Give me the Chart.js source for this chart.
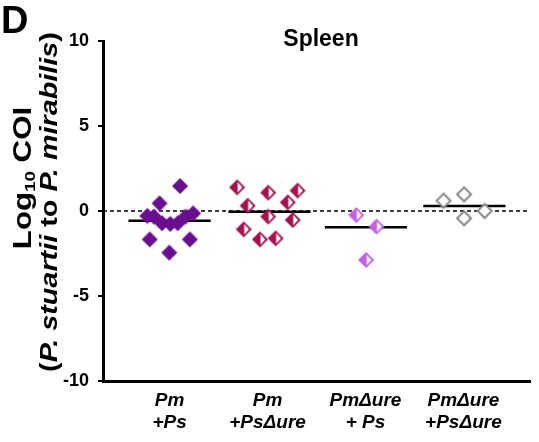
<!DOCTYPE html>
<html>
<head>
<meta charset="utf-8">
<script src="https://cdn.jsdelivr.net/npm/chart.js@4"></script>
<style>
  html, body { margin: 0; padding: 0; background: #fff; }
  #wrap { width: 539px; height: 442px; position: relative; }
</style>
</head>
<body>
<div id="wrap"><canvas id="chart"></canvas></div>
<script>
// Categories and tick values
const categories = [['Pm', '+Ps'], ['Pm', '+PsΔure'], ['PmΔure', '+ Ps'], ['PmΔure', '+PsΔure']];
const yTicks = [-10, -5, 0, 5, 10];

// Log10 COI per mouse (x = scatter position inside the group)
const pmPsX = [1.107, 0.897, 0.773, 0.84, 0.923, 1.007, 1.083, 1.163, 1.24, 0.797, 1.207, 0.997];
const pmPsY = [1.47, 0.45, -0.29, -0.33, -0.72, -0.76, -0.72, -0.33, -0.14, -1.67, -1.67, -2.45];

const pmPsUreX = [1.69, 2.007, 2.307, 2.207, 1.797, 2.007, 2.257, 1.757, 1.923, 2.083];
const pmPsUreY = [1.39, 1.08, 1.20, 0.51, 0.31, -0.33, -0.53, -1.08, -1.67, -1.61];

const pmUrePsX = [2.907, 3.113, 3.007];
const pmUrePsY = [-0.24, -0.92, -2.88];

const pmUrePsUreX = [3.797, 4.007, 4.217, 4.007];
const pmUrePsUreY = [0.61, 0.98, 0.0, -0.43];

// Median lines
const medianX = [1.0, 2.02, 3.005, 4.01];
const medianY = [-0.57, -0.04, -0.96, 0.29];

const xMin = 0.32, xMax = 4.68;
const FONT = "'Liberation Sans', Arial, sans-serif";

// Diamond markers drawn onto small canvases
const makeMarker = (color, kind) => {
    const r = 8, size = 20, c = size / 2;
    const cv = document.createElement('canvas');
    cv.width = size; cv.height = size;
    const g = cv.getContext('2d');
    const diamond = (rr) => {
        g.beginPath();
        g.moveTo(c, c - rr); g.lineTo(c + rr, c); g.lineTo(c, c + rr); g.lineTo(c - rr, c);
        g.closePath();
    };
    if (kind === 'open') {
        diamond(r - 1);
        g.fillStyle = '#fff'; g.fill();
        g.lineWidth = 2; g.strokeStyle = color; g.stroke();
    } else {
        diamond(r);
        g.fillStyle = color; g.fill();
        if (kind === 'half') {
            g.beginPath();
            g.moveTo(c + 0.5, c - r + 2.8);
            g.lineTo(c + r - 2.8, c);
            g.lineTo(c + 0.5, c + r - 2.8);
            g.closePath();
            g.fillStyle = '#fff'; g.fill();
        }
    }
    return cv;
};

const toPoints = (xs, ys) => xs.map((x, i) => ({ x: x, y: ys[i] }));

const pointSet = (xs, ys, marker) => ({
    data: toPoints(xs, ys),
    pointStyle: marker,
    pointRadius: 8,
    showLine: false,
    order: 0
});

const medianSets = medianX.map((mx, i) => ({
    data: [{ x: mx - 0.42, y: medianY[i] }, { x: mx + 0.42, y: medianY[i] }],
    showLine: true,
    borderColor: '#000',
    borderWidth: 2.5,
    pointRadius: 0,
    order: 1
}));

const zeroLine = {
    data: [{ x: xMin, y: 0 }, { x: xMax, y: 0 }],
    showLine: true,
    borderColor: '#000',
    borderWidth: 1.5,
    borderDash: [4, 3],
    pointRadius: 0,
    order: 2
};

// Title, panel letter and rotated y-axis title
const textPlugin = {
    id: 'texts',
    afterDraw(chart) {
        const ctx = chart.ctx;
        ctx.save();
        ctx.fillStyle = '#000';
        ctx.textBaseline = 'alphabetic';

        ctx.font = `bold 38px ${FONT}`;
        ctx.textAlign = 'left';
        ctx.fillText('D', 1, 33);

        ctx.font = `bold 23px ${FONT}`;
        ctx.textAlign = 'center';
        ctx.fillText('Spleen', 321, 46);

        ctx.textAlign = 'left';
        // runs of mixed style, rotated, stretched along the text by sx
        const drawRuns = (runs, tx, ty, sx) => {
            ctx.save();
            ctx.translate(tx, ty);
            ctx.rotate(-Math.PI / 2);
            ctx.scale(sx, 1);
            let total = 0;
            runs.forEach(r => { ctx.font = r.font; r.w = ctx.measureText(r.text).width; total += r.w; });
            let x = -total / 2;
            runs.forEach(r => { ctx.font = r.font; ctx.fillText(r.text, x, r.dy || 0); x += r.w; });
            ctx.restore();
        };
        drawRuns([
            { text: 'Log', font: `bold 25px ${FONT}` },
            { text: '10', font: `bold 15px ${FONT}`, dy: 4 },
            { text: ' COI', font: `bold 25px ${FONT}` }
        ], 31, 178, 1.25);
        drawRuns([
            { text: '(', font: `bold 24px ${FONT}` },
            { text: 'P. stuartii', font: `italic bold 24px ${FONT}` },
            { text: ' to ', font: `bold 24px ${FONT}` },
            { text: 'P. mirabilis', font: `italic bold 24px ${FONT}` },
            { text: ')', font: `bold 24px ${FONT}` }
        ], 57, 202, 1.2);
        ctx.restore();
    }
};

new Chart(document.getElementById('chart'), {
    type: 'scatter',
    data: {
        datasets: [
            pointSet(pmPsX, pmPsY, makeMarker('#6A0D8F', 'solid')),
            pointSet(pmPsUreX, pmPsUreY, makeMarker('#A3114F', 'half')),
            pointSet(pmUrePsX, pmUrePsY, makeMarker('#C45FE6', 'half')),
            pointSet(pmUrePsUreX, pmUrePsUreY, makeMarker('#8A8A8A', 'open')),
            ...medianSets,
            zeroLine
        ]
    },
    options: {
        responsive: true,
        maintainAspectRatio: false,
        animation: false,
        devicePixelRatio: 1,
        layout: { padding: { top: 41, right: 0, left: 0, bottom: 0 } },
        plugins: {
            legend: { display: false },
            tooltip: { enabled: false }
        },
        scales: {
            x: {
                type: 'linear',
                min: xMin,
                max: xMax,
                afterBuildTicks: (s) => { s.ticks = categories.map((_, i) => ({ value: i + 1 })); },
                afterFit: (s) => { s.height = 61; },
                ticks: {
                    autoSkip: false,
                    maxRotation: 0,
                    padding: 8,
                    color: '#000',
                    font: { family: FONT, size: 19, weight: 'bold', style: 'italic', lineHeight: 1.2 },
                    callback: (v) => categories[Math.round(v) - 1]
                },
                grid: { display: true, drawOnChartArea: false, drawTicks: false },
                border: { display: true, color: '#000', width: 3 }
            },
            y: {
                min: -10,
                max: 10,
                afterBuildTicks: (s) => { s.ticks = yTicks.map(v => ({ value: v })); },
                afterFit: (s) => { s.width = 103; },
                ticks: {
                    padding: 9,
                    color: '#000',
                    font: { family: FONT, size: 18, weight: 'bold' }
                },
                grid: { display: true, drawOnChartArea: false, drawTicks: true, tickLength: 5, color: '#000', lineWidth: 2 },
                border: { display: true, color: '#000', width: 3 }
            }
        }
    },
    plugins: [textPlugin]
});
</script>
</body>
</html>
